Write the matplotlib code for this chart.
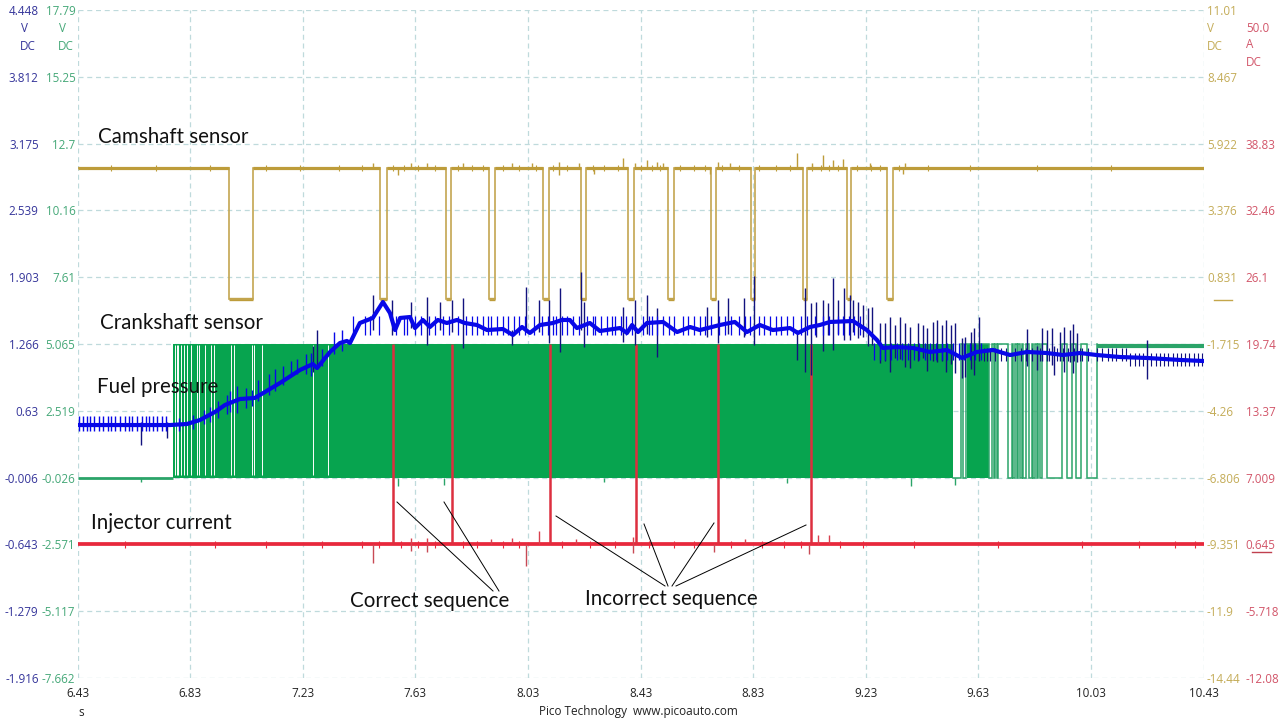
import numpy as np
import matplotlib
matplotlib.use("Agg")
import matplotlib.pyplot as plt
from matplotlib.lines import Line2D

plt.rcParams['font.family'] = ['Open Sans', 'DejaVu Sans']

# Time axis, seconds
time_ticks = [6.43, 6.83, 7.23, 7.63, 8.03, 8.43, 8.83, 9.23, 9.63, 10.03, 10.43]

# Tick values of the four channels
blue_ticks = [4.448, 3.812, 3.175, 2.539, 1.903, 1.266, 0.63, -0.006, -0.643, -1.279, -1.916]
green_ticks = [17.79, 15.25, 12.7, 10.16, 7.61, 5.065, 2.519, -0.026, -2.571, -5.117, -7.662]
cam_ticks = [11.01, 8.467, 5.922, 3.376, 0.831, -1.715, -4.26, -6.806, -9.351, -11.9, -14.44]
red_ticks = [38.83, 32.46, 26.1, 19.74, 13.37, 7.009, 0.645, -5.718, -12.08]
red_top = 51.56

# Camshaft sensor: low pulses (falling edge, rising edge)
cam_high = 4.98
cam_low = 0.0
cam_pulses = [(6.968, 7.053), (7.503, 7.529), (7.738, 7.756), (7.892, 7.912), (8.085, 8.104),
              (8.220, 8.236), (8.387, 8.406), (8.529, 8.548), (8.680, 8.697), (8.821, 8.837),
              (9.006, 9.023), (9.165, 9.179), (9.307, 9.326)]
cam_up_t = [7.479, 7.615, 7.673, 7.798, 7.972, 8.043, 8.142, 8.213, 8.369, 8.411, 8.452, 8.487,
            8.511, 8.706, 8.748, 8.985, 9.038, 9.077, 9.115, 9.150, 9.245, 9.369]
cam_up_v = [5.19, 5.17, 5.17, 5.18, 5.17, 5.17, 5.23, 5.17, 5.37, 5.18, 5.29, 5.2,
            5.18, 5.2, 5.18, 5.56, 5.17, 5.48, 5.29, 5.32, 5.17, 5.18]
cam_down_t = [7.570, 8.142, 8.266, 8.677, 9.364]
cam_down_v = [4.72, 4.72, 4.77, 4.77, 4.75]
cam_fuzz_t = [6.55, 6.71, 6.90, 7.10, 7.22, 7.36, 7.44, 7.55, 7.59, 7.64, 7.70, 7.78, 7.83, 7.87, 7.94,
              8.00, 8.06, 8.12, 8.17, 8.26, 8.30, 8.35, 8.43, 8.47, 8.50, 8.57, 8.62, 8.66, 8.72, 8.78,
              8.85, 8.91, 8.96, 9.04, 9.07, 9.10, 9.13, 9.20, 9.25, 9.28, 9.35, 9.45, 9.60, 9.84, 10.10]
cam_fuzz_band = (4.88, 5.09)

# Crankshaft sensor: solid burst of switching, with thin gaps, then single pulses
green_high = 5.065
green_low = -0.026
green_burst_start = 6.771
green_burst_end = 9.5415
green_block = (9.589, 9.669)
green_gaps = [6.777, 6.782, 6.788, 6.797, 6.808, 6.820, 6.833, 6.856, 6.862, 6.883, 6.903, 6.915,
              6.974, 6.986, 7.049, 7.058, 7.084, 7.266, 7.321]
green_pulses = [(9.569, 9.577), (9.587, 9.669), (9.678, 9.684), (9.690, 9.695), (9.701, 9.737),
                (9.749, 9.755), (9.761, 9.766), (9.772, 9.778), (9.784, 9.790), (9.798, 9.810),
                (9.820, 9.826), (9.832, 9.838), (9.843, 9.849), (9.855, 9.873), (9.926, 9.944),
                (9.962, 9.976), (9.994, 10.015)]
green_tail_start = 10.051
green_spike_t = [6.657, 7.568, 7.732, 8.30, 8.95, 9.391, 9.546]
green_spike_v = [-0.2, -0.36, -0.30, -0.2, -0.22, -0.36, -0.3]

# Injector current
red_base = 0.645
red_top_level = 19.74
red_inject_t = [7.551, 7.759, 8.107, 8.414, 8.704, 9.034]
red_down_t = [7.479, 7.615, 7.672, 8.023, 8.404, 8.690, 9.028]
red_down_v = [-1.09, 0.0, -0.1, -1.38, -0.2, -0.1, -0.3]
red_up_t = [7.615, 7.672, 7.90, 7.972, 8.069, 8.20, 8.404, 8.80, 9.06, 9.10]
red_up_v = [1.3, 1.3, 1.2, 1.3, 1.92, 1.2, 1.4, 1.2, 1.54, 1.54]
red_fuzz_t = [6.60, 6.92, 7.10, 7.30, 7.44, 7.50, 7.58, 7.64, 7.70, 7.80, 7.85, 7.94, 8.00, 8.15, 8.25, 8.34,
              8.46, 8.55, 8.62, 8.75, 8.86, 8.94, 9.00, 9.14, 9.22, 9.40, 9.70, 10.00, 10.20, 10.33, 10.40]
red_fuzz_band = (0.3, 0.98)

# Fuel pressure: the thick centre of the trace
blue_t = [6.43, 6.759, 6.819, 6.865, 6.918, 6.954, 7.007, 7.060, 7.096, 7.149, 7.220, 7.266, 7.281,
          7.327, 7.362, 7.387, 7.398, 7.433, 7.479, 7.515, 7.540, 7.558, 7.576, 7.611, 7.629, 7.657,
          7.682, 7.710, 7.742, 7.778, 7.806, 7.849, 7.885, 7.941, 7.977, 8.009, 8.037, 8.073, 8.119,
          8.151, 8.179, 8.204, 8.250, 8.286, 8.357, 8.382, 8.400, 8.421, 8.453, 8.510, 8.560, 8.606,
          8.641, 8.712, 8.765, 8.808, 8.854, 8.900, 8.961, 8.989, 9.032, 9.067, 9.103, 9.185, 9.234,
          9.270, 9.291, 9.341, 9.398, 9.458, 9.519, 9.572, 9.625, 9.682, 9.743, 9.803, 9.874, 9.931,
          9.991, 10.051, 10.133, 10.229, 10.346, 10.43]
blue_v = [0.494, 0.494, 0.504, 0.542, 0.618, 0.685, 0.742, 0.752, 0.809, 0.894, 1.018, 1.075, 1.037,
          1.190, 1.275, 1.295, 1.275, 1.466, 1.514, 1.666, 1.561, 1.399, 1.514, 1.523, 1.418, 1.495,
          1.428, 1.495, 1.466, 1.495, 1.466, 1.447, 1.399, 1.409, 1.352, 1.428, 1.371, 1.447, 1.466,
          1.495, 1.495, 1.418, 1.466, 1.390, 1.418, 1.371, 1.447, 1.380, 1.466, 1.476, 1.380, 1.428,
          1.399, 1.447, 1.476, 1.380, 1.447, 1.399, 1.418, 1.371, 1.428, 1.447, 1.476, 1.485, 1.399,
          1.304, 1.228, 1.237, 1.228, 1.190, 1.209, 1.133, 1.190, 1.209, 1.161, 1.190, 1.180, 1.161,
          1.180, 1.161, 1.142, 1.133, 1.114, 1.104]

# Fuel pressure: tall spikes (time, top, bottom)
spike_t = [6.657, 6.747, 7.266, 7.281, 7.478, 7.549, 7.613, 7.670, 7.718, 7.759, 7.798, 7.974, 8.023,
           8.069, 8.106, 8.144, 8.217, 8.229, 8.369, 8.411, 8.452, 8.487, 8.665, 8.704, 8.740, 8.799,
           8.833, 8.985, 9.015, 9.035, 9.055, 9.077, 9.096, 9.114, 9.131, 9.153, 9.175, 9.186, 9.202,
           9.220, 9.238, 9.252, 9.281, 9.299, 9.317, 9.334, 9.352, 9.370, 9.388, 9.417, 9.435, 9.449,
           9.468, 9.485, 9.500, 9.515, 9.532, 9.549, 9.571, 9.584, 9.603, 9.616, 9.633, 9.804, 9.838,
           9.858, 9.873, 9.891, 9.900, 9.920, 9.936, 9.954, 9.968, 9.980, 10.231]
spike_top = [0.52, 0.52, 1.25, 1.40, 1.733, 1.685, 1.666, 1.714, 1.666, 1.685, 1.704, 1.40, 1.809,
             1.685, 1.685, 1.799, 1.952, 1.666, 1.618, 1.685, 1.733, 1.609, 1.618, 1.685, 1.704, 1.704,
             1.914, 1.40, 1.799, 1.657, 1.666, 1.685, 1.657, 1.895, 1.685, 1.799, 1.733, 1.685, 1.666,
             1.638, 1.609, 1.618, 1.466, 1.463, 1.526, 1.447, 1.526, 1.463, 1.431, 1.469, 1.447, 1.415,
             1.479, 1.494, 1.447, 1.494, 1.447, 1.463, 1.320, 1.336, 1.383, 1.415, 1.526, 1.405, 1.25,
             1.415, 1.399, 1.415, 1.25, 1.383, 1.425, 1.399, 1.456, 1.374, 1.304]
spike_bot = [0.303, 0.367, 1.0, 1.05, 1.40, 1.352, 1.42, 1.256, 1.40, 1.38, 1.228, 1.256, 1.38,
             1.38, 1.275, 1.190, 1.40, 1.237, 1.285, 1.256, 1.36, 1.142, 1.33, 1.275, 1.36, 1.33,
             1.256, 1.114, 1.000, 0.971, 1.33, 1.20, 1.35, 1.21, 1.36, 1.30, 1.30, 1.38, 1.32,
             1.33, 1.25, 1.256, 1.085, 1.10, 1.002, 1.13, 1.12, 1.05, 1.034, 1.10, 1.13, 1.012,
             1.10, 1.09, 1.10, 1.002, 1.08, 0.986, 0.939, 0.948, 1.03, 0.970, 1.10, 1.06, 1.018,
             1.10, 1.10, 1.07, 0.970, 1.10, 1.002, 1.09, 0.986, 1.09, 0.932]

# Fuel pressure: short fuzz around the trace (time, then the band it spans)
fuzz_left_t = [6.437, 6.450, 6.463, 6.475, 6.487, 6.505, 6.522, 6.540, 6.550, 6.563, 6.580, 6.599, 6.612,
               6.623, 6.641, 6.659, 6.672, 6.684, 6.698, 6.711, 6.729, 6.745]
fuzz_left_band = (0.44, 0.58)
fuzz_rise_t = [6.79, 6.84, 6.88, 6.90, 6.93, 6.96, 6.97, 6.998, 7.03, 7.05, 7.07, 7.11, 7.13, 7.16, 7.19,
               7.21, 7.24, 7.26, 7.30, 7.34, 7.37]
fuzz_rise_up = [0.56, 0.59, 0.64, 0.67, 0.72, 0.78, 0.82, 0.87, 0.85, 0.83, 0.92, 0.98, 1.03, 1.06, 1.10,
                1.12, 1.17, 1.18, 1.22, 1.38, 1.40]
fuzz_rise_down = [0.44, 0.46, 0.50, 0.52, 0.56, 0.60, 0.62, 0.61, 0.66, 0.68, 0.72, 0.78, 0.82, 0.88, 0.96,
                  0.98, 0.98, 0.96, 1.06, 1.17, 1.20]
fuzz_mid_t = [7.41, 7.45, 7.47, 7.50, 7.56, 7.59, 7.60, 7.63, 7.65, 7.68, 7.70, 7.73, 7.75, 7.78, 7.81, 7.83,
              7.85, 7.87, 7.89, 7.90, 7.92, 7.94, 7.96, 7.98, 8.00, 8.02, 8.05, 8.08, 8.10, 8.12, 8.13,
              8.15, 8.17, 8.19, 8.21, 8.24, 8.26, 8.27, 8.29, 8.31, 8.33, 8.34, 8.36, 8.38, 8.40, 8.44,
              8.46, 8.47, 8.49, 8.51, 8.53, 8.55, 8.58, 8.60, 8.62, 8.64, 8.66, 8.68, 8.71, 8.73, 8.75,
              8.78, 8.80, 8.82, 8.85, 8.87, 8.89, 8.91, 8.93, 8.95, 8.97, 9.00, 9.02, 9.05, 9.08, 9.10,
              9.13, 9.15, 9.17, 9.19, 9.21]
fuzz_mid_band = (1.35, 1.53)
fuzz_tail_t = [9.26, 9.28, 9.30, 9.32, 9.34, 9.36, 9.38, 9.40, 9.42, 9.44, 9.46, 9.48, 9.50, 9.52, 9.54, 9.56,
               9.58, 9.60, 9.62, 9.64]
fuzz_tail_band = (1.11, 1.28)
fuzz_right_a_t = [9.65, 9.66, 9.67, 9.69, 9.71, 9.73, 9.76, 9.78, 9.80, 9.82, 9.85, 9.88, 9.91, 9.93, 9.95,
                  9.97, 9.99, 10.00, 10.02, 10.05, 10.07, 10.09, 10.105, 10.12, 10.14, 10.155]
fuzz_right_a_band = (1.10, 1.23)
fuzz_right_b_t = [10.17, 10.185, 10.20, 10.215, 10.245, 10.26, 10.275, 10.29, 10.305, 10.32, 10.335,
                  10.35, 10.365, 10.38, 10.395, 10.41, 10.425]
fuzz_right_b_band = (1.06, 1.18)

# Axis frame in pixels of the 1280x720 picture
W, H = 1280, 720
X0, X1, Y0, Y1 = 77.5, 1203.5, 10, 678


def fx(x):
    return x / W


def fy(y):
    return 1 - y / H


fig = plt.figure(figsize=(12.8, 7.2), dpi=100, facecolor='white')
rect = [fx(X0), fy(Y1), (X1 - X0) / W, (Y1 - Y0) / H]

ax_cam = fig.add_axes(rect, zorder=1)
ax_green = fig.add_axes(rect, zorder=2)
ax_red = fig.add_axes(rect, zorder=3)
ax_blue = fig.add_axes(rect, zorder=4)

BLUE_TXT = '#35359a'
GREEN_TXT = '#45a878'
CAM_TXT = '#c4ac58'
RED_TXT = '#d2566a'
TICK_SIZE = 8.4

setups = [
    (ax_cam, cam_ticks, (cam_ticks[-1], cam_ticks[0]), 'right', CAM_TXT, 2.5),
    (ax_green, green_ticks, (green_ticks[-1], green_ticks[0]), 'left', GREEN_TXT, 1.6),
    (ax_red, red_ticks, (red_ticks[-1], red_top), 'right', RED_TXT, 30.5),
    (ax_blue, blue_ticks, (blue_ticks[-1], blue_ticks[0]), 'left', BLUE_TXT, 28),
]
for ax, ticks, lim, side, col, pad in setups:
    ax.set_xlim(time_ticks[0], time_ticks[-1])
    ax.set_ylim(*lim)
    ax.patch.set_visible(False)
    for s in ax.spines.values():
        s.set_visible(False)
    ax.yaxis.set_ticks_position(side)
    ax.set_yticks(ticks, labels=[str(v) for v in ticks])
    ax.tick_params(axis='y', length=0, pad=pad, labelcolor=col, labelsize=TICK_SIZE)
    ax.set_xticks([])

# The grid belongs to the bottom axes
ax_cam.set_xticks(time_ticks, labels=[str(v) for v in time_ticks])
ax_cam.tick_params(axis='x', length=0, pad=6.5, labelcolor='#222222', labelsize=TICK_SIZE)
ax_cam.grid(True, color='#bfdadc', linestyle=(0, (4, 3)), linewidth=0.9)
ax_cam.set_axisbelow(True)

# Camshaft trace
CAM = '#bd9c3a'
cam_x = [time_ticks[0]]
cam_y = [cam_high]
for fall, rise in cam_pulses:
    cam_x += [fall, fall, rise, rise]
    cam_y += [cam_high, cam_low, cam_low, cam_high]
    ax_cam.plot([fall, rise], [cam_low, cam_low], color=CAM, lw=2.4, solid_capstyle='butt')
cam_x.append(time_ticks[-1])
cam_y.append(cam_high)
ax_cam.plot(cam_x, cam_y, color='#c4a650', lw=1.2, solid_joinstyle='miter')
flat_starts = [time_ticks[0]] + [p[1] for p in cam_pulses]
flat_ends = [p[0] for p in cam_pulses] + [time_ticks[-1]]
for start, end in zip(flat_starts, flat_ends):
    ax_cam.plot([start, end], [cam_high, cam_high], color=CAM, lw=2.3, solid_capstyle='butt')
ax_cam.vlines(cam_up_t, cam_high, cam_up_v, color=CAM, lw=1)
ax_cam.vlines(cam_down_t, cam_down_v, cam_high, color=CAM, lw=1)
ax_cam.vlines(cam_fuzz_t, cam_fuzz_band[0], cam_fuzz_band[1], color=CAM, lw=0.8)

# Crankshaft trace
GREEN = '#07a44f'
GREEN_LINE = '#2ba469'
ax_green.fill_between([green_burst_start, green_burst_end], green_low, green_high, color=GREEN, lw=0)
ax_green.fill_between(green_block, green_low, green_high, color=GREEN, lw=0)
ax_green.vlines(green_gaps, green_low + 0.1, green_high - 0.05, color='white', lw=0.7)
ax_green.plot([time_ticks[0], green_burst_start], [green_low, green_low], color=GREEN_LINE, lw=2, solid_capstyle='butt')
ax_green.plot([green_tail_start, time_ticks[-1]], [green_high - 0.07, green_high - 0.07], color=GREEN_LINE, lw=3, solid_capstyle='butt')
pulse_x = [green_burst_end]
pulse_y = [green_low]
for up, down in green_pulses:
    pulse_x += [up, up, down, down]
    pulse_y += [green_low, green_high, green_high, green_low]
pulse_x += [green_tail_start, green_tail_start]
pulse_y += [green_low, green_high]
ax_green.plot(pulse_x, pulse_y, color=GREEN_LINE, lw=1.1, solid_joinstyle='miter')
ax_green.vlines(green_spike_t, green_spike_v, green_low, color=GREEN_LINE, lw=1)

# Injector trace
RED = '#e8283c'
ax_red.plot([time_ticks[0], time_ticks[-1]], [red_base, red_base], color=RED, lw=2.7, solid_capstyle='butt')
ax_red.vlines(red_inject_t, red_base, red_top_level, color='#dd2f3f', lw=1.8)
ax_red.vlines(red_down_t, red_down_v, red_base, color='#c84a55', lw=1)
ax_red.vlines(red_up_t, red_base, red_up_v, color='#d8404e', lw=1)
ax_red.vlines(red_fuzz_t, red_fuzz_band[0], red_fuzz_band[1], color=RED, lw=0.8)

# Fuel pressure trace, fuzz and spikes under the thick centre
BLUE = '#0808e8'
NAVY = '#12127e'
ax_blue.vlines(spike_t, spike_bot, spike_top, color=NAVY, lw=1)
ax_blue.vlines(fuzz_left_t, fuzz_left_band[0], fuzz_left_band[1], color=BLUE, lw=1)
ax_blue.vlines(fuzz_rise_t, fuzz_rise_down, fuzz_rise_up, color=BLUE, lw=1)
ax_blue.vlines(fuzz_mid_t, fuzz_mid_band[0], fuzz_mid_band[1], color=BLUE, lw=0.9)
ax_blue.vlines(fuzz_tail_t, fuzz_tail_band[0], fuzz_tail_band[1], color=BLUE, lw=0.9)
ax_blue.vlines(fuzz_right_a_t, fuzz_right_a_band[0], fuzz_right_a_band[1], color=NAVY, lw=0.8)
ax_blue.vlines(fuzz_right_b_t, fuzz_right_b_band[0], fuzz_right_b_band[1], color=NAVY, lw=0.8)
ax_blue.plot(blue_t, blue_v, color=BLUE, lw=3, solid_joinstyle='round')

# Units next to the top ticks
unit_texts = [
    ('V', 24, 28, BLUE_TXT, 'center'), ('DC', 28, 46, BLUE_TXT, 'center'),
    ('V', 62, 28, GREEN_TXT, 'center'), ('DC', 66, 46, GREEN_TXT, 'center'),
    ('V', 1207, 28, CAM_TXT, 'left'), ('DC', 1207, 46, CAM_TXT, 'left'),
    ('50.0', 1246, 28, RED_TXT, 'left'), ('A', 1246, 45, RED_TXT, 'left'), ('DC', 1246, 62, RED_TXT, 'left'),
]
for txt, x, y, col, ha in unit_texts:
    fig.text(fx(x), fy(y), txt, color=col, fontsize=TICK_SIZE, ha=ha, va='center')

# Zero markers beside the right hand scales
fig.add_artist(Line2D([fx(1214), fx(1232)], [fy(300), fy(300)], color='#c4a64a', lw=1))
fig.add_artist(Line2D([fx(1252), fx(1271)], [fy(552), fy(552)], color='#c0404f', lw=1))

fig.text(fx(81), fy(713), 's', color='#222222', fontsize=TICK_SIZE, ha='center', va='center')
fig.text(fx(638), fy(712), 'Pico Technology  www.picoauto.com', color='#222222', fontsize=8.5, ha='center', va='center')

# Hand written notes on top of the traces
notes = [
    ('Camshaft sensor', 98, 137), ('Crankshaft sensor', 100, 323), ('Fuel pressure', 97, 387),
    ('Injector current', 91, 523), ('Correct sequence', 350, 601), ('Incorrect sequence', 585, 599),
]
for txt, x, y in notes:
    fig.text(fx(x), fy(y), txt, color='#111111', fontsize=14.8, family='Lato', ha='left', va='center', zorder=10)

note_lines = [
    ((397, 502), (493, 591)), ((444, 502), (499, 591)), ((556, 516), (665, 586)),
    ((644, 524), (668, 586)), ((714, 523), (672, 586)), ((806, 525), (676, 586)),
]
for a, b in note_lines:
    fig.add_artist(Line2D([fx(a[0]), fx(b[0])], [fy(a[1]), fy(b[1])], color='black', lw=0.7, zorder=10))

fig.savefig('out.png', dpi=100)
